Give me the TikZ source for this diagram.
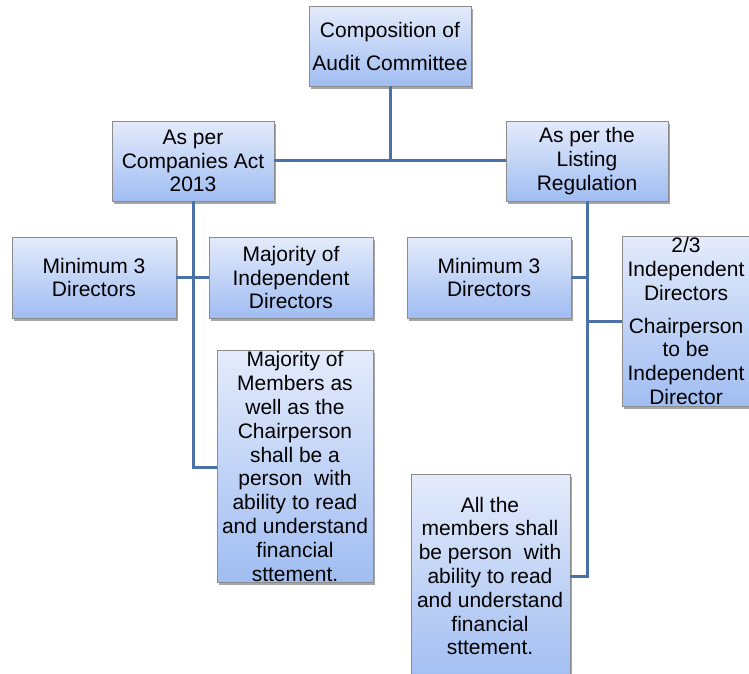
\documentclass[tikz,border=0pt]{standalone}
\usepackage{fontspec}
\setmainfont{Liberation Sans}
\usetikzlibrary{shadows}
\definecolor{boxtop}{RGB}{228,235,251}
\definecolor{boxbot}{RGB}{160,189,242}
\definecolor{boxline}{RGB}{140,140,140}
\definecolor{conn}{RGB}{74,114,168}
\tikzset{
  box/.style={draw=boxline, line width=0.8pt, top color=boxtop, bottom color=boxbot,
    align=center, inner sep=1pt, font=\fontsize{21}{23.8}\selectfont,
    drop shadow={shadow xshift=2pt, shadow yshift=-2.5pt, fill=black, opacity=0.35}},
  boxtext/.style={align=center, inner sep=0pt, font=\fontsize{21}{23.8}\selectfont},
  link/.style={draw=conn, line width=3pt}
}
\begin{document}
\begin{tikzpicture}[x=1pt,y=-1pt]
\useasboundingbox (0,0) rectangle (749,673);
\node[box, minimum width=162pt, minimum height=80pt, font=\fontsize{21}{33}\selectfont] (top) at (390,46) {Composition of\\Audit Committee};
\node[box, minimum width=162pt, minimum height=80pt] (ca) at (193,161) {As per\\Companies Act\\2013};
\node[box, minimum width=162pt, minimum height=80pt] (lr) at (587,161) {As per the\\Listing\\Regulation};
\node[box, minimum width=164pt, minimum height=81pt] (lmin) at (94,277.5) {Minimum 3\\Directors};
\node[box, minimum width=164pt, minimum height=81pt] (lmaj) at (291,277.5) {Majority of\\Independent\\Directors};
\node[box, minimum width=156pt, minimum height=231pt] (lmem) at (295,466.5) {Majority of\\Members as\\well as the\\Chairperson\\shall be a\\person~ with\\ability to read\\and understand\\financial\\sttement.};
\node[box, minimum width=164pt, minimum height=81pt] (rmin) at (489,277.5) {Minimum 3\\Directors};
\node[box, minimum width=130pt, minimum height=170pt] (rind) at (687,321) {};
\node[boxtext] (rindt) at (686,321) {2/3\\Independent\\Directors\\[9pt]Chairperson\\to be\\Independent\\Director};
\node[box, minimum width=159pt, minimum height=212pt] (rall) at (490.5,580) {};
\node[boxtext] (rallt) at (490,576) {All the\\members shall\\be person~ with\\ability to read\\and understand\\financial\\sttement.};
\coordinate (j) at (390,160);
\coordinate (lb) at (193,467);
\coordinate (rb) at (587,576);
\draw[link] (top.south) -- (j);
\draw[link] (ca.east |- j) -- (lr.west |- j);
\draw[link] (ca.south) -- (lb) -- (lb -| lmem.west);
\draw[link] (lmin.east) -- (lmaj.west);
\draw[link] (lr.south) -- (rb) -- (rb -| rall.east);
\draw[link] (rmin.east) -- (rmin.east -| rb);
\draw[link] (rind.west) -- (rind.west -| rb);
\end{tikzpicture}
\end{document}
